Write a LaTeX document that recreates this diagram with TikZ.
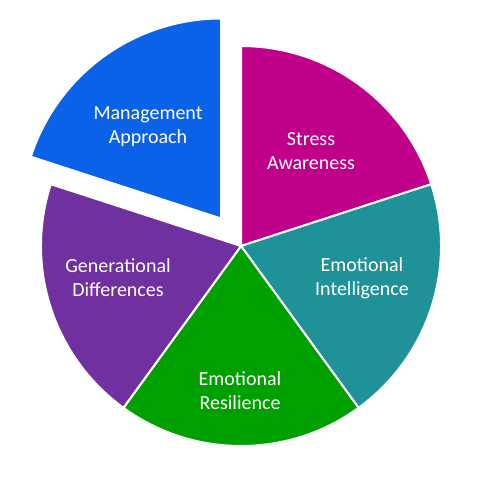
\documentclass[tikz,border=0pt]{standalone}
\usepackage{fontspec}
\setmainfont{Carlito}
\usetikzlibrary{calc}
\definecolor{cmag}{HTML}{C0008A}
\definecolor{cteal}{HTML}{1E9199}
\definecolor{cgreen}{HTML}{00A000}
\definecolor{cpurple}{HTML}{7030A0}
\definecolor{cblue}{HTML}{0A62E8}
\tikzset{
  slice/.style={draw=white, line width=2pt, line join=miter},
  lbl/.style={text=white, align=center, font=\fontsize{20}{24}\selectfont, inner sep=0pt}
}
\begin{document}
\begin{tikzpicture}[x=1pt,y=1pt]
\useasboundingbox (0,0) rectangle (495,-477);
\coordinate (C) at (241,-246);
\coordinate (CM) at ($(C)+(126:34)$);
\fill[cmag,slice] (C) -- ++(90:200) arc (90:18:200) -- cycle;
\fill[cteal,slice] (C) -- ++(18:200) arc (18:-54:200) -- cycle;
\fill[cgreen,slice] (C) -- ++(-54:200) arc (-54:-126:200) -- cycle;
\fill[cpurple,slice] (C) -- ++(-126:200) arc (-126:-198:200) -- cycle;
\fill[cblue,slice] (CM) -- ++(162:200) arc (162:90:200) -- cycle;
\node[lbl] (sa) at (311,-151) {Stress\\Awareness};
\node[lbl] (ei) at (362,-278) {Emotional\\Intelligence};
\node[lbl] (er) at (240,-391) {Emotional\\Resilience};
\node[lbl] (gd) at (118,-278) {Generational\\Differences};
\node[lbl] (ma) at (148,-127) {Management\\Approach};
\end{tikzpicture}
\end{document}
